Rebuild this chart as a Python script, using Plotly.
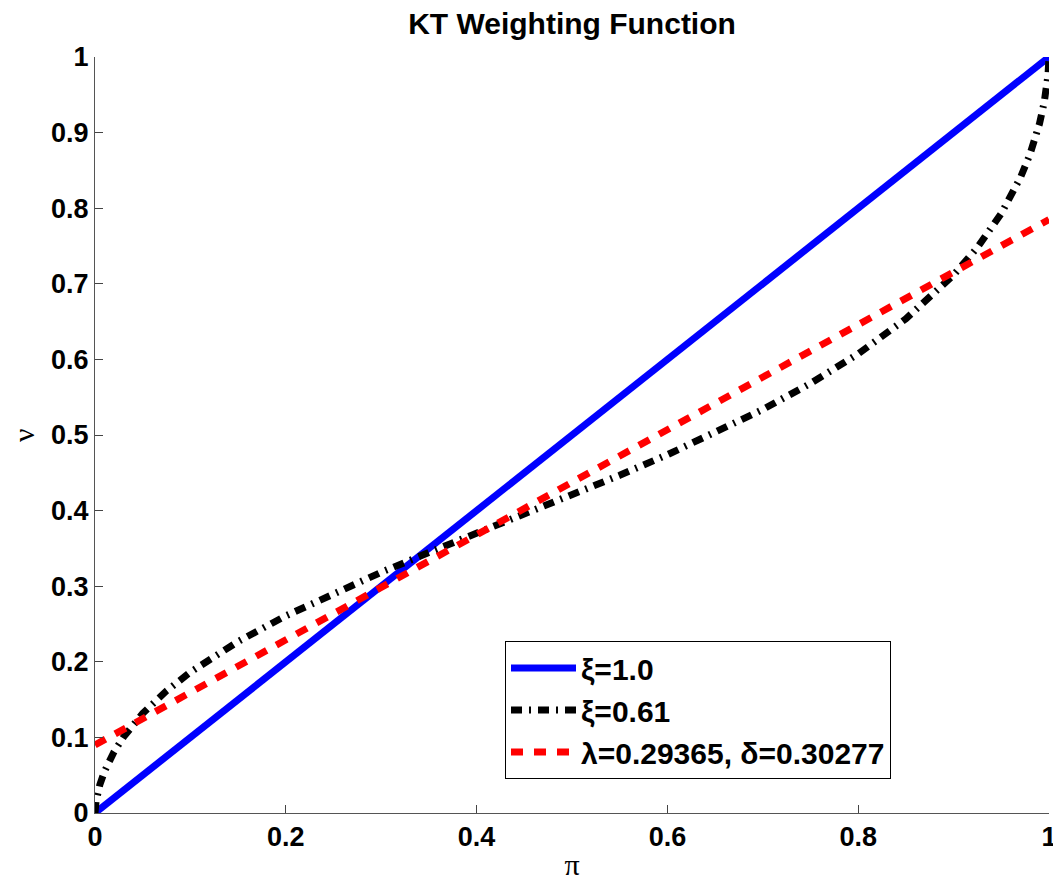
import plotly.graph_objects as go

# x values (probability pi)
p_line = [0.0, 1.0]
v_line = [0.0, 1.0]

p_kt = [0.0, 0.001, 0.005, 0.01, 0.02, 0.03, 0.05, 0.075, 0.1, 0.15, 0.2, 0.25, 0.3,
        0.35, 0.4, 0.45, 0.5, 0.55, 0.6, 0.65, 0.7, 0.75, 0.8, 0.85, 0.9, 0.925,
        0.95, 0.97, 0.98, 0.99, 0.995, 0.999, 1.0]
v_kt = [0.0, 0.0145, 0.0372, 0.0552, 0.0810, 0.1008, 0.1316, 0.1616, 0.1863, 0.2269,
        0.2608, 0.2908, 0.3184, 0.3446, 0.3700, 0.3952, 0.4206, 0.4467, 0.4739,
        0.5027, 0.5338, 0.5683, 0.6074, 0.6537, 0.7117, 0.7481, 0.7932, 0.8404,
        0.8711, 0.9117, 0.9402, 0.9766, 1.0]

p_na = [0.0, 1.0]
v_na = [0.09, 0.785]

x_ticks = [0, 0.2, 0.4, 0.6, 0.8, 1]
x_tick_labels = ["0", "0.2", "0.4", "0.6", "0.8", "1"]
y_ticks = [0, 0.1, 0.2, 0.3, 0.4, 0.5, 0.6, 0.7, 0.8, 0.9, 1]
y_tick_labels = ["0", "0.1", "0.2", "0.3", "0.4", "0.5", "0.6", "0.7", "0.8", "0.9", "1"]

names = ["ξ=1.0", "ξ=0.61", "λ=0.29365, δ=0.30277"]

fig = go.Figure()
fig.add_trace(go.Scatter(x=p_line, y=v_line, mode="lines", name="<b>%s</b>" % names[0],
                         line=dict(color="#0000ff", width=7), legendgroup="a"))
fig.add_trace(go.Scatter(x=p_kt, y=v_kt, mode="lines", name="<b>%s</b>" % names[1],
                         line=dict(color="#000000", width=7, dash="11px,7px,2px,7px"),
                         legendgroup="b"))
fig.add_trace(go.Scatter(x=p_na, y=v_na, mode="lines", name="<b>%s</b>" % names[2],
                         line=dict(color="#ff0000", width=7, dash="12px,11px"),
                         legendgroup="c"))

font_main = "Liberation Sans, Arial, sans-serif"
font_sym = "Liberation Serif, Times New Roman, serif"

# page body adds an 8px margin, so the figure is 8px smaller on each axis
W, H = 1053, 875
L, T, PW, PH = 87, 49, 954, 756

fig.update_layout(
    width=W, height=H,
    margin=dict(l=L, r=W - L - PW, t=T, b=H - T - PH, autoexpand=False),
    paper_bgcolor="white", plot_bgcolor="white",
    title=dict(text="<b>KT Weighting Function</b>", x=(L + PW / 2) / W, xanchor="center",
               y=1 - 15 / H, yanchor="middle",
               font=dict(family=font_main, size=30, color="black")),
    xaxis=dict(range=[0, 1], tickvals=x_ticks, ticktext=["<b>%s</b>" % t for t in x_tick_labels],
               ticks="inside", ticklen=8, tickcolor="#444", showline=True, linecolor="#555",
               linewidth=1, showgrid=False, zeroline=False, mirror=False, automargin=False,
               tickfont=dict(family=font_main, size=27, color="black"),
               title=dict(text="π", font=dict(family=font_sym, size=30, color="black"),
                          standoff=2)),
    yaxis=dict(range=[0, 1], tickvals=y_ticks, ticktext=["<b>%s</b>" % t for t in y_tick_labels],
               ticks="inside", ticklen=8, tickcolor="#444", showline=True, linecolor="#555",
               linewidth=1, showgrid=False, zeroline=False, mirror=False, automargin=False,
               tickfont=dict(family=font_main, size=27, color="black")),
    legend=dict(x=(505 - 95) / PW, y=(813 - 641) / PH, xanchor="left", yanchor="top",
                bgcolor="white", bordercolor="black", borderwidth=1,
                font=dict(family=font_main, size=30, color="black"),
                itemwidth=65, tracegroupgap=7, traceorder="normal"),
    showlegend=True,
)
fig.add_annotation(text="ν", xref="paper", yref="paper", x=(15 - L) / PW, y=0.5,
                   xanchor="center", yanchor="middle", textangle=-90, showarrow=False,
                   borderpad=0, font=dict(family=font_sym, size=30, color="black"))

fig.write_html("out.html")
